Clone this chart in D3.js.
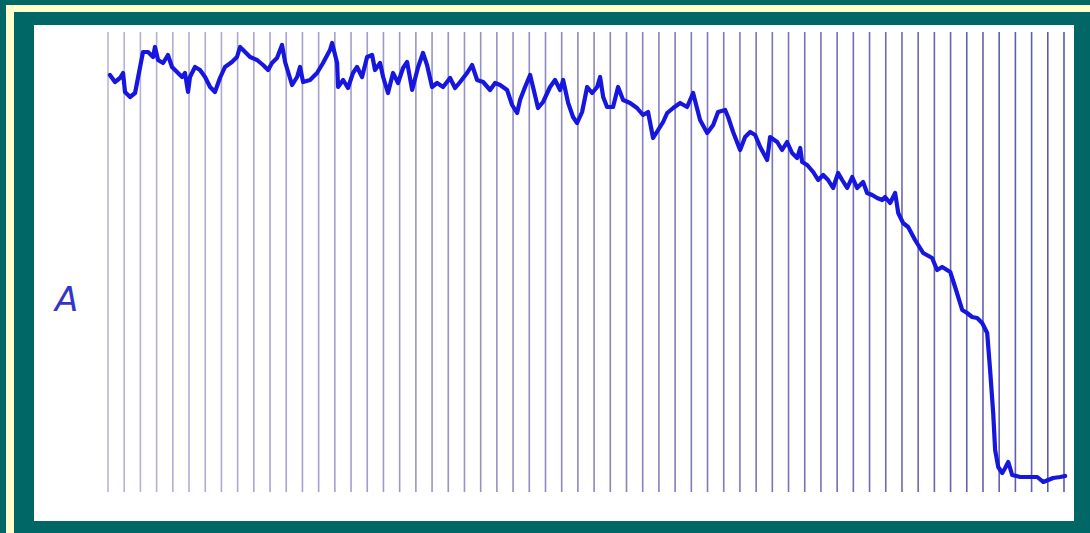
<!DOCTYPE html>
<html>
<head>
<meta charset="utf-8">
<script src="https://cdn.jsdelivr.net/npm/d3@7"></script>
<style>
    body { margin: 0; background: #006666; }
</style>
</head>
<body>
<svg id="grafico"></svg>
<script>
// marcas de tempo (s) do registrador
let marcas = [0, 1, 2, 3, 4, 5, 6, 7, 8, 9, 10, 11, 12, 13, 14, 15, 16, 17, 18, 19,
    20, 21, 22, 23, 24, 25, 26, 27, 28, 29, 30, 31, 32, 33, 34, 35, 36, 37, 38, 39,
    40, 41, 42, 43, 44, 45, 46, 47, 48, 49, 50, 51, 52, 53, 54, 55, 56, 57, 58, 59];

let tempos = [0.12, 0.43, 0.74, 0.93, 1.05, 1.36, 1.67, 1.98, 2.16, 2.47, 2.78, 2.90, 3.09, 3.40, 3.70, 3.95,
    4.26, 4.57, 4.75, 4.94, 5.06, 5.37, 5.68, 5.99, 6.30, 6.60, 6.91, 7.22, 7.65, 7.96, 8.15, 8.46,
    8.77, 9.20, 9.57, 9.88, 10.12, 10.43, 10.74, 10.93, 11.36, 11.67, 11.85, 12.04, 12.47, 12.90, 13.27, 13.70,
    13.83, 14.14, 14.20, 14.51, 14.81, 15.12, 15.37, 15.68, 15.99, 16.30, 16.48, 16.79, 16.98, 17.28, 17.59, 17.90,
    18.21, 18.46, 18.77, 19.14, 19.44, 19.69, 20.00, 20.31, 20.68, 21.11, 21.42, 21.73, 22.16, 22.47, 22.78, 23.15,
    23.58, 23.89, 24.20, 24.63, 24.94, 25.25, 25.43, 25.74, 26.05, 26.23, 26.54, 26.85, 27.28, 27.59, 27.90, 28.09,
    28.40, 28.70, 28.95, 29.26, 29.57, 29.88, 30.19, 30.37, 30.56, 30.80, 31.17, 31.48, 31.79, 32.22, 32.65, 33.02,
    33.33, 33.64, 33.95, 34.26, 34.51, 34.88, 35.31, 35.74, 36.11, 36.54, 36.98, 37.35, 37.65, 38.09, 38.27, 38.58,
    39.01, 39.32, 39.63, 39.94, 40.25, 40.68, 40.86, 41.30, 41.60, 41.91, 42.22, 42.53, 42.72, 42.84, 43.15, 43.52,
    43.83, 44.14, 44.44, 44.75, 45.06, 45.31, 45.62, 45.93, 46.23, 46.60, 46.85, 47.16, 47.47, 47.78, 47.96, 48.27,
    48.58, 48.77, 49.07, 49.38, 49.81, 50.31, 50.86, 51.17, 51.48, 51.98, 52.28, 52.72, 53.02, 53.33, 53.64, 53.95,
    54.26, 54.44, 54.63, 54.75, 54.94, 55.19, 55.37, 55.56, 55.80, 56.30, 57.35, 57.72, 58.33, 58.77, 59.07];

let amplitudes = [41.5, 40.8, 41.2, 41.7, 39.8, 39.3, 39.7, 42.3, 43.8, 43.8, 43.3, 44.3, 43.0, 42.7, 43.5, 42.3,
    41.8, 41.3, 41.7, 39.8, 41.3, 42.3, 42.0, 41.3, 40.3, 39.8, 41.2, 42.3, 42.8, 43.3, 44.3, 43.8,
    43.3, 43.0, 42.5, 42.0, 42.7, 43.2, 44.5, 42.8, 40.5, 41.3, 42.3, 40.8, 41.0, 41.7, 42.7, 44.0,
    44.7, 42.7, 40.3, 41.0, 40.2, 41.7, 42.3, 41.3, 43.3, 43.5, 42.0, 42.7, 41.3, 39.7, 41.7, 40.7,
    42.2, 42.8, 40.0, 42.3, 43.7, 42.5, 40.3, 40.7, 40.3, 41.2, 40.2, 40.8, 41.7, 42.5, 41.0, 40.8,
    40.0, 40.7, 40.5, 40.0, 38.5, 37.7, 39.0, 40.3, 41.5, 40.3, 38.2, 38.8, 40.3, 41.0, 40.0, 41.0,
    38.7, 37.3, 36.7, 37.8, 40.3, 39.7, 40.3, 41.3, 39.3, 38.3, 38.3, 40.3, 39.0, 38.7, 38.2, 37.5,
    37.8, 35.2, 36.0, 36.8, 37.7, 38.2, 38.7, 38.3, 39.7, 37.0, 35.7, 36.5, 37.8, 38.0, 37.3, 35.8,
    34.0, 35.3, 35.8, 35.5, 34.3, 33.0, 35.3, 34.8, 34.0, 34.8, 33.7, 33.2, 34.2, 32.8, 32.5, 31.8,
    31.0, 31.5, 31.0, 30.2, 31.7, 31.0, 30.2, 31.3, 30.2, 30.8, 29.7, 29.5, 29.2, 29.0, 29.3, 28.7,
    29.7, 27.7, 26.7, 26.3, 25.0, 23.7, 23.2, 22.0, 22.3, 21.8, 20.3, 18.0, 17.7, 17.3, 17.2, 16.7,
    15.7, 12.0, 7.7, 4.0, 2.3, 1.7, 2.2, 2.8, 1.5, 1.3, 1.3, 0.8, 1.2, 1.3, 1.4];

let rotulo = 'A';

let largura = 1090, altura = 533;
let svg = d3.select('#grafico')
    .attr('width', largura)
    .attr('height', altura)

// moldura
svg.append('rect').attr('width', largura).attr('height', altura).attr('fill', '#006666')
svg.append('rect').attr('x', 6).attr('y', 5).attr('width', largura - 6).attr('height', 7).attr('fill', '#ffffcc')
svg.append('rect').attr('x', 6).attr('y', 5).attr('width', 8).attr('height', altura - 5).attr('fill', '#ffffcc')
svg.append('rect').attr('x', 34).attr('y', 25).attr('width', 1040).attr('height', 496).attr('fill', '#ffffff')

let fnX = d3.scaleLinear().domain([0, 59]).range([108, 1064])
let fnY = d3.scaleLinear().domain([0, 46]).range([490, 30])
let fnOpac = d3.scaleLinear().domain([0, 59]).range([0.4, 0.9])

svg.append('g')
    .selectAll('line')
    .data(marcas)
    .enter()
    .append('line')
    .attr('x1', (d) => fnX(d))
    .attr('x2', (d) => fnX(d))
    .attr('y1', fnY(46) + 2)
    .attr('y2', fnY(0) + 2)
    .attr('stroke', '#4a46a0')
    .attr('stroke-width', 1.6)
    .attr('stroke-opacity', (d) => fnOpac(d))

let dados = tempos.map((t, i) => ({ t: t, a: amplitudes[i] }))
let linha = d3.line()
    .x((d) => fnX(d.t))
    .y((d) => fnY(d.a))

svg.append('path')
    .datum(dados)
    .attr('d', linha)
    .attr('fill', 'none')
    .attr('stroke', '#1616de')
    .attr('stroke-width', 4.2)
    .attr('stroke-linejoin', 'round')
    .attr('stroke-linecap', 'round')

svg.append('text')
    .attr('x', 55)
    .attr('y', 311)
    .attr('fill', '#3434c8')
    .style('font-family', 'DejaVu Sans')
    .style('font-style', 'italic')
    .style('font-size', '34px')
    .text(rotulo)
</script>
</body>
</html>
